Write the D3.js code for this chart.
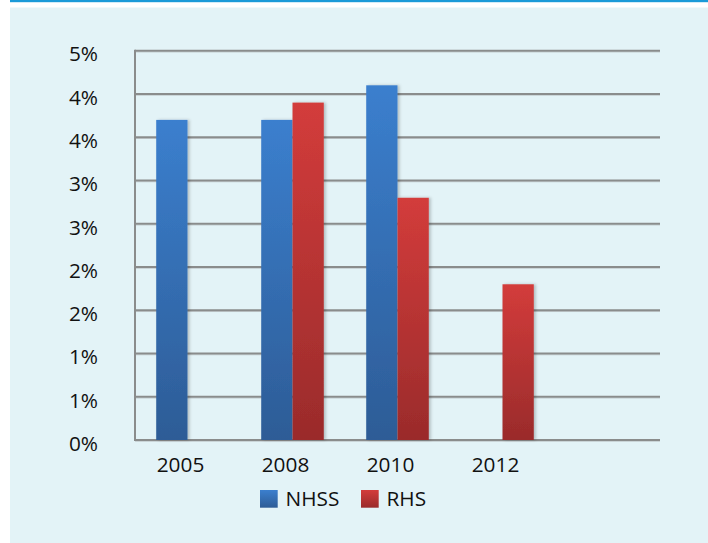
<!DOCTYPE html>
<html>
<head>
<meta charset="utf-8">
<script src="https://cdn.jsdelivr.net/npm/d3@7"></script>
<style>
  html, body { margin: 0; padding: 0; background: #ffffff; }
  svg { display: block; }
  text { font-family: "Open Sans", "Noto Sans", sans-serif; fill: #111111; }
</style>
</head>
<body>
<svg id="chart" width="708" height="543"></svg>
<script>
// ---- data ----
const categories = ["2005", "2008", "2010", "2012", ""];
const seriesNames = ["NHSS", "RHS"];
const nhss = [3.7, 3.7, 4.1, null, null];
const rhs  = [null, 3.9, 2.8, 1.8, null];
const tickValues = [0, 0.5, 1, 1.5, 2, 2.5, 3, 3.5, 4, 4.5];
const tickLabels = ["0%", "1%", "1%", "2%", "2%", "3%", "3%", "4%", "4%", "5%"];

(function () {
const svg = d3.select("#chart");
const W = 708, H = 543;
const FS = 20.8;

// background panel and top rule
svg.append("rect").attr("x", 10).attr("y", 7.5).attr("width", W - 10).attr("height", H - 7.5).attr("fill", "#e3f3f7");
svg.append("rect").attr("x", 10).attr("y", 0).attr("width", W - 10).attr("height", 2.2).attr("fill", "#1a9ad8");

const defs = svg.append("defs");
const grads = [
  { id: "gBlue", top: "#3b7fce", bottom: "#2d5c96" },
  { id: "gRed", top: "#d33c3b", bottom: "#9a2b2b" }
];
grads.forEach(g => {
  const lg = defs.append("linearGradient").attr("id", g.id).attr("x1", 0).attr("y1", 0).attr("x2", 0).attr("y2", 1);
  lg.append("stop").attr("offset", "0%").attr("stop-color", g.top);
  lg.append("stop").attr("offset", "100%").attr("stop-color", g.bottom);
});
const f = defs.append("filter").attr("id", "shadow").attr("x", "-20%").attr("y", "-5%").attr("width", "150%").attr("height", "115%");
f.append("feDropShadow").attr("dx", 2).attr("dy", 0).attr("stdDeviation", 1.6).attr("flood-color", "#000").attr("flood-opacity", 0.22);

const pLeft = 135, pRight = 660, pTop = 50.7, pBottom = 440;

const x0 = d3.scaleBand().domain(categories).range([pLeft, pRight]).paddingInner(0.404).paddingOuter(0.202);
const x1 = d3.scaleBand().domain(seriesNames).range([0, x0.bandwidth()]);
const y = d3.scaleLinear().domain([0, 4.5]).range([pBottom, pTop]);

// gridlines
const grid = svg.append("g");
tickValues.forEach(v => {
  grid.append("line").attr("x1", pLeft).attr("x2", pRight).attr("y1", y(v) + 1.3).attr("y2", y(v) + 1.3)
    .attr("stroke", "#c4cdd0").attr("stroke-width", 1);
  grid.append("line").attr("x1", pLeft).attr("x2", pRight).attr("y1", y(v)).attr("y2", y(v))
    .attr("stroke", "#8a8c8c").attr("stroke-width", 2);
});
// left axis line
svg.append("line").attr("x1", pLeft).attr("x2", pLeft).attr("y1", pTop - 1).attr("y2", pBottom + 1)
  .attr("stroke", "#8a8c8c").attr("stroke-width", 2);

// y axis labels
const yAxis = d3.axisLeft(y).tickValues(tickValues).tickFormat((d, i) => tickLabels[i]).tickSize(0).tickPadding(0);
const ya = svg.append("g").attr("transform", `translate(98,0)`).call(yAxis);
ya.select(".domain").remove();
ya.selectAll("text").attr("font-size", FS).attr("font-family", "'Open Sans', sans-serif").attr("fill", "#111111")
  .attr("dy", "0.35em").attr("y", 3);

// x axis labels
const xAxis = d3.axisBottom(x0).tickSize(0).tickPadding(0);
const xa = svg.append("g").attr("transform", `translate(0,${pBottom})`).call(xAxis);
xa.select(".domain").remove();
xa.selectAll("text").attr("font-size", FS).attr("font-family", "'Open Sans', sans-serif").attr("fill", "#111111")
  .attr("dy", null).attr("y", 32).attr("x", -7);

// bars
const series = [
  { name: "NHSS", values: nhss, fill: "url(#gBlue)" },
  { name: "RHS", values: rhs, fill: "url(#gRed)" }
];
series.forEach(s => {
  svg.append("g").selectAll("rect")
    .data(categories.map((c, i) => ({ c, v: s.values[i] })).filter(d => d.v != null))
    .join("rect")
    .attr("x", d => x0(d.c) + x1(s.name))
    .attr("width", x1.bandwidth())
    .attr("y", d => y(d.v))
    .attr("height", d => y(0) - y(d.v))
    .attr("fill", s.fill)
    .attr("filter", "url(#shadow)");
});

// legend
const legend = [
  { name: "NHSS", fill: "url(#gBlue)", x: 260 },
  { name: "RHS", fill: "url(#gRed)", x: 361 }
];
legend.forEach(l => {
  svg.append("rect").attr("x", l.x).attr("y", 490).attr("width", 17.7).attr("height", 17.7).attr("fill", l.fill);
  svg.append("text").attr("x", l.x + 25.5).attr("y", 505.5).attr("font-size", FS).text(l.name);
});
})();
</script>
</body>
</html>
